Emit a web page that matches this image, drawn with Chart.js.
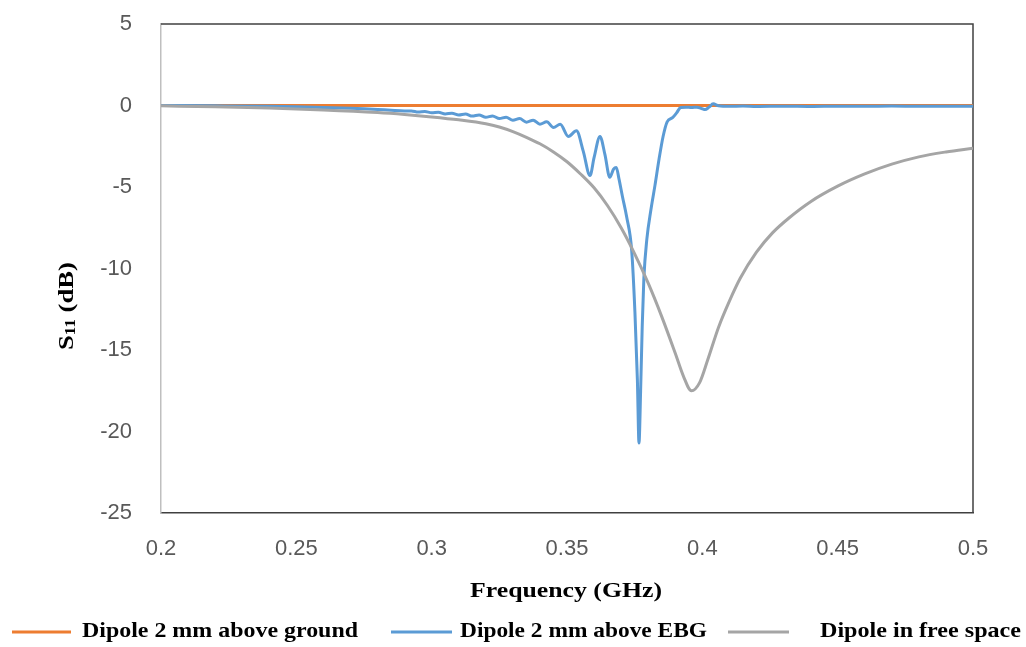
<!DOCTYPE html>
<html>
<head>
<meta charset="utf-8">
<script src="https://cdn.jsdelivr.net/npm/chart.js@4.4.0/dist/chart.umd.min.js"></script>
<style>
html,body{margin:0;padding:0;background:#fff;}
#wrap{width:1026px;height:647px;position:relative;}
</style>
</head>
<body>
<div id="wrap"><canvas id="c" width="1026" height="647"></canvas></div>
<script>
// ---- data ----
const seriesNames = ["Dipole 2 mm above ground", "Dipole 2 mm above EBG", "Dipole in free space"];
const xTicks = [0.2, 0.25, 0.3, 0.35, 0.4, 0.45, 0.5];
const yTicks = [5, 0, -5, -10, -15, -20, -25];

const freqGround = [0.2, 0.25, 0.3, 0.35, 0.4, 0.45, 0.5];
const s11Ground  = [0, 0, 0, 0, 0, 0, 0];

const freqEBG = [0.200,0.220,0.240,0.250,0.260,0.270,0.275,0.280,0.285,0.290,
  0.2925,0.295,0.2975,0.300,0.3025,0.305,0.3075,0.310,0.3125,0.315,0.3175,0.320,
  0.3225,0.325,0.3275,0.330,0.3325,0.335,0.3375,0.340,0.3425,0.345,0.3475,0.3505,
  0.3535,0.356,0.3585,0.3600,0.3622,0.3640,0.3658,0.3672,0.3682,0.3692,0.3705,
  0.3720,0.3739,0.3751,0.3760,0.3766,0.3772,0.3778,0.3784,0.3795,0.3810,0.3825,
  0.3840,0.3855,0.3870,0.3890,0.3905,0.3920,0.3940,0.3960,0.3980,0.4000,0.4010,
  0.4025,0.4040,0.4060,0.410,0.415,0.420,0.430,0.440,0.450,0.460,0.470,0.480,0.490,0.500];
const s11EBG = [0,-0.02,-0.05,-0.08,-0.12,-0.17,-0.2,-0.24,-0.29,-0.33,
  -0.33,-0.40,-0.37,-0.45,-0.42,-0.52,-0.47,-0.58,-0.52,-0.65,-0.58,-0.72,
  -0.64,-0.80,-0.72,-0.90,-0.80,-1.02,-0.90,-1.15,-1.00,-1.35,-1.15,-1.90,
  -1.55,-2.8,-4.3,-3.2,-1.9,-3.0,-4.4,-3.9,-3.8,-4.5,-5.6,
  -6.8,-8.9,-12.7,-16.8,-20.7,-17.5,-13.5,-10.6,-8.2,-6.4,-4.9,
  -3.3,-1.9,-1.0,-0.75,-0.45,-0.12,-0.1,-0.12,-0.1,-0.2,-0.25,
  -0.1,0.1,-0.02,-0.05,-0.03,-0.06,-0.04,-0.06,-0.04,-0.05,-0.03,-0.05,-0.04,-0.05];

const freqFree = [0.2,0.22,0.24,0.26,0.28,0.29,0.30,0.31,0.32,0.325,0.33,0.335,0.34,0.345,
  0.35,0.355,0.36,0.365,0.37,0.375,0.38,0.385,0.39,0.393,0.396,0.399,0.402,
  0.406,0.410,0.414,0.420,0.426,0.432,0.440,0.450,0.460,0.470,0.480,0.490,0.500];
const s11Free = [-0.02,-0.08,-0.16,-0.27,-0.43,-0.55,-0.7,-0.88,-1.12,-1.32,-1.6,-1.95,-2.35,-2.85,
  -3.45,-4.2,-5.05,-6.15,-7.5,-9.1,-10.9,-12.95,-15.2,-16.6,-17.5,-17.0,-15.6,
  -13.6,-12.0,-10.6,-9.0,-7.8,-6.9,-5.9,-4.95,-4.2,-3.6,-3.15,-2.85,-2.62];

const colors = ["#ED7D31", "#5B9BD5", "#A5A5A5"];

function pts(xs, ys){ return xs.map((x,i)=>({x:x, y:ys[i]})); }

// ---- text helpers ----
function fitText(ctx, text, x, y, targetW, font){
  ctx.font = font;
  const w = ctx.measureText(text).width;
  const s = targetW / w;
  ctx.save();
  ctx.translate(x, y);
  ctx.scale(s, 1);
  ctx.textAlign = 'left';
  ctx.fillText(text, 0, 0);
  ctx.restore();
}

const decor = {
  id: 'decor',
  beforeDatasetsDraw(chart){
    const {ctx, chartArea:a} = chart;
    ctx.save();
    ctx.strokeStyle = '#404040';
    ctx.lineWidth = 1.5;
    ctx.beginPath();
    ctx.moveTo(a.left, a.top); ctx.lineTo(a.right, a.top); ctx.lineTo(a.right, a.bottom);
    ctx.stroke();
    ctx.restore();
  },
  afterDraw(chart){
    const ctx = chart.ctx;
    ctx.save();
    ctx.fillStyle = '#000';
    ctx.textBaseline = 'middle';
    fitText(ctx, 'Frequency (GHz)', 470, 591, 192, 'bold 22px "Liberation Serif"');
    ctx.save();
    ctx.translate(67, 306);
    ctx.rotate(-Math.PI/2);
    const fBig = 'bold 22px "Liberation Serif"', fSmall = 'bold 14px "Liberation Serif"';
    ctx.font = fBig; const wS = ctx.measureText('S').width; const wT = ctx.measureText(' (dB)').width;
    ctx.font = fSmall; const w11 = ctx.measureText('11').width;
    const total = wS + w11 + wT;
    ctx.scale(88 / total, 1);
    let x0 = -total/2;
    ctx.textAlign = 'left';
    ctx.font = fBig; ctx.fillText('S', x0, 0); x0 += wS;
    ctx.font = fSmall; ctx.fillText('11', x0, 4); x0 += w11;
    ctx.font = fBig; ctx.fillText(' (dB)', x0, 0);
    ctx.restore();
    const legend = [
      {x1:12, x2:71, tx:82, tw:276},
      {x1:391, x2:452, tx:460, tw:247},
      {x1:728, x2:789, tx:820, tw:201}
    ];
    legend.forEach((L,i)=>{
      ctx.strokeStyle = colors[i];
      ctx.lineWidth = 3;
      ctx.beginPath(); ctx.moveTo(L.x1, 632); ctx.lineTo(L.x2, 632); ctx.stroke();
      ctx.fillStyle = '#000';
      fitText(ctx, seriesNames[i], L.tx, 632, L.tw, 'bold 21px "Liberation Serif"');
    });
    ctx.restore();
  }
};

const ds = [
  {label: seriesNames[0], data: pts(freqGround, s11Ground), borderColor: colors[0]},
  {label: seriesNames[1], data: pts(freqEBG, s11EBG), borderColor: colors[1]},
  {label: seriesNames[2], data: pts(freqFree, s11Free), borderColor: colors[2]}
].map(d => Object.assign(d, {borderWidth: 3, pointRadius: 0, fill: false, cubicInterpolationMode: 'monotone'}));

new Chart(document.getElementById('c'), {
  type: 'line',
  data: { datasets: [ds[2], ds[1], ds[0]] },
  options: {
    responsive: false,
    animation: false,
    layout: { padding: { top: 24, right: 53, left: 0, bottom: 0 } },
    plugins: { legend: { display: false }, tooltip: { enabled: false } },
    scales: {
      x: {
        type: 'linear', min: 0.2, max: 0.5,
        afterBuildTicks: (s) => { s.ticks = xTicks.map(v => ({value: v})); },
        afterFit: (s) => { s.height = 134; s.paddingLeft = 0; s.paddingRight = 0; },
        grid: { display: false, drawTicks: false },
        border: { display: true, color: '#404040', width: 1.5 },
        ticks: {
          padding: 23, color: '#595959',
          font: { family: '"Liberation Sans"', size: 22 },
          callback: (v) => String(Math.round(v*100)/100)
        }
      },
      y: {
        type: 'linear', min: -25, max: 5,
        afterBuildTicks: (s) => { s.ticks = yTicks.map(v => ({value: v})); },
        afterFit: (s) => { s.width = 161; s.paddingTop = 0; s.paddingBottom = 0; },
        grid: { display: false, drawTicks: false },
        border: { display: true, color: '#BFBFBF', width: 1.5 },
        ticks: {
          padding: 29, color: '#595959',
          font: { family: '"Liberation Sans"', size: 22 },
          callback: (v) => String(v)
        }
      }
    }
  },
  plugins: [decor]
});
</script>
</body>
</html>
